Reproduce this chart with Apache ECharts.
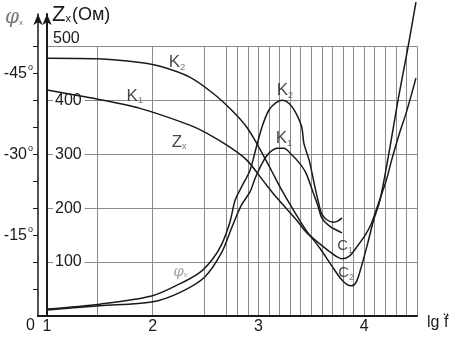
<!DOCTYPE html>
<html>
<head>
<meta charset="utf-8">
<script src="https://cdn.jsdelivr.net/npm/echarts@6/dist/echarts.min.js"></script>
<style>
  html, body { margin: 0; background: #fff; }
  #chart { width: 460px; height: 351px; }
</style>
</head>
<body>
<div id="chart"></div>
<script>
// lg f values where the vertical grid lines sit
const gridX = [1.48, 2, 2.49, 2.7, 2.8, 2.9, 3, 3.1, 3.2, 3.3, 3.4, 3.5, 3.6, 3.7, 3.8, 3.9, 4, 4.1, 4.2, 4.3, 4.4, 4.5];
const zTicks = [100, 200, 300, 400, 500];
const phiLabels = [15, 30, 45];
const phiTicks = [5, 10, 15, 20, 25, 30, 35, 40, 45, 50];
const lgTicks = [1, 2, 3, 4];

// Zx (Ом) against lg f
const zK2 = [[1.00, 478], [1.48, 477], [1.88, 470], [2.07, 463], [2.35, 443], [2.57, 413], [2.75, 381], [2.89, 350],
  [3.01, 311], [3.13, 267], [3.23, 230], [3.36, 187], [3.45, 159], [3.58, 126], [3.69, 94], [3.78, 69], [3.84, 58],
  [3.88, 56], [3.925, 63], [3.97, 89], [4.03, 132], [4.09, 178], [4.15, 215], [4.24, 308], [4.32, 400], [4.41, 493],
  [4.49, 582]];
const zK1 = [[1.00, 419], [1.48, 402], [1.88, 385], [2.35, 354], [2.51, 339], [2.73, 313], [2.89, 289], [3.04, 252],
  [3.17, 220], [3.36, 178], [3.45, 156], [3.56, 137], [3.67, 120], [3.75, 109], [3.79, 106], [3.86, 111], [3.93, 128],
  [4.01, 150], [4.07, 172], [4.12, 200], [4.21, 252], [4.26, 289], [4.33, 336], [4.40, 378], [4.49, 441]];

// |phi x| in degrees against lg f
const phiK2 = [[1.00, 1.3], [1.50, 2.2], [1.99, 3.7], [2.25, 5.9], [2.44, 8.0], [2.56, 10.4], [2.65, 13.2], [2.73, 17.4],
  [2.78, 21.5], [2.85, 24.3], [2.92, 27.0], [2.98, 31.3], [3.04, 35.4], [3.10, 38.2], [3.17, 39.6], [3.23, 40.0],
  [3.29, 39.4], [3.35, 37.8], [3.41, 35.0], [3.43, 32.0], [3.48, 28.9], [3.53, 24.3], [3.57, 20.9], [3.60, 18.9],
  [3.65, 17.8], [3.71, 17.4], [3.75, 17.6], [3.79, 18.2]];
const phiK1 = [[1.00, 1.1], [1.50, 1.9], [1.99, 2.6], [2.25, 4.3], [2.49, 7.2], [2.65, 11.7], [2.75, 16.5], [2.84, 20.6],
  [2.92, 23.0], [2.97, 25.6], [3.04, 28.5], [3.10, 30.2], [3.18, 31.1], [3.24, 31.1], [3.32, 29.8], [3.39, 28.3],
  [3.45, 26.5], [3.51, 23.3], [3.56, 20.6], [3.60, 18.2], [3.67, 16.7], [3.74, 15.9], [3.79, 15.4]];

// curve captions, placed in (lg f, Z) units
const captions = [
  { name: 'K{s|2}', value: [2.23, 470] },
  { name: 'K{s|1}', value: [1.83, 407] },
  { name: 'Z{s|x}', value: [2.25, 322] },
  { name: 'K{s|2}', value: [3.25, 418] },
  { name: 'K{s|1}', value: [3.24, 329] },
  { name: '{c|C}{s|1}', value: [3.82, 130] },
  { name: '{c|C}{s|2}', value: [3.83, 80] },
  { name: '{p|φ}{ps|x}', value: [2.26, 82] }
];

const font = 'Liberation Sans, Arial, sans-serif';
const ink = '#1a1a1a';

const chart = echarts.init(document.getElementById('chart'));

const curve = (data, yIdx) => ({
  type: 'line',
  yAxisIndex: yIdx,
  data: data,
  smooth: 0.3,
  showSymbol: false,
  symbol: 'none',
  clip: false,
  silent: true,
  z: 3,
  lineStyle: { color: ink, width: 1.5 }
});

const gridLines = [];
gridX.forEach(x => gridLines.push([{ coord: [x, 0] }, { coord: [x, 500] }]));
zTicks.forEach(z => gridLines.push([{ coord: [1, z] }, { coord: [4.5, z] }]));

chart.setOption({
  animation: false,
  grid: { left: 47, right: 43, top: 14, bottom: 35 },
  xAxis: {
    type: 'value',
    min: 1,
    max: 4.5,
    interval: 1,
    axisLine: { lineStyle: { color: ink, width: 2 } },
    axisTick: { show: false },
    splitLine: { show: false },
    axisLabel: { customValues: lgTicks, color: ink, fontSize: 16, fontFamily: font, margin: 3 }
  },
  yAxis: [
    {
      type: 'value',
      min: 0,
      max: 560,
      interval: 100,
      position: 'left',
      z: 2,
      axisLine: { show: true, lineStyle: { color: ink, width: 2 }, symbol: ['none', 'arrow'], symbolSize: [7, 11] },
      axisTick: { show: false },
      splitLine: { show: false },
      axisLabel: {
        customValues: zTicks,
        inside: true,
        margin: 6,
        color: ink,
        fontSize: 16,
        fontFamily: font,
        formatter: v => v === 500 ? '{t|500}' : '{n|' + v + '}',
        rich: {
          n: { backgroundColor: '#fff', padding: [1, 3, 1, 2], fontSize: 16, fontFamily: font, color: ink },
          t: { padding: [0, 0, 16, 0], fontSize: 16, fontFamily: font, color: ink }
        }
      }
    },
    {
      type: 'value',
      min: 0,
      max: 56,
      interval: 5,
      position: 'left',
      offset: 9,
      axisLine: { show: true, lineStyle: { color: ink, width: 1.5 }, symbol: ['none', 'arrow'], symbolSize: [7, 11] },
      axisTick: { show: true, customValues: phiTicks, length: 5, lineStyle: { color: ink } },
      splitLine: { show: false },
      axisLabel: {
        customValues: phiLabels,
        margin: 5,
        color: ink,
        fontSize: 16,
        fontFamily: font,
        formatter: v => '-' + v + '{d|o}',
        rich: { d: { fontSize: 9, padding: [0, 0, 12, 1], fontFamily: font, color: ink } }
      }
    }
  ],
  series: [
    Object.assign(curve(zK2, 0), {
      markLine: {
        z: 0,
        silent: true,
        symbol: ['none', 'none'],
        label: { show: false },
        lineStyle: { color: '#8a8a8a', width: 1, type: 'solid' },
        data: gridLines
      }
    }),
    curve(zK1, 0),
    curve(phiK2, 1),
    curve(phiK1, 1),
    {
      type: 'scatter',
      yAxisIndex: 0,
      data: captions,
      symbolSize: 0,
      silent: true,
      z: 4,
      label: {
        show: true,
        position: 'inside',
        formatter: p => p.name,
        color: ink,
        fontSize: 17,
        fontFamily: font,
        rich: {
          s: { fontSize: 9, color: '#555', padding: [9, 0, 0, 0], fontFamily: font },
          c: { fontSize: 15, color: ink, fontFamily: font },
          p: { fontSize: 15, color: '#888', fontStyle: 'italic', fontFamily: 'DejaVu Serif' },
          ps: { fontSize: 7, color: '#888', padding: [6, 0, 0, 0], fontFamily: font }
        }
      }
    }
  ],
  graphic: [
    { type: 'line', shape: { x1: 37, y1: 316, x2: 47, y2: 316 }, style: { stroke: ink, lineWidth: 2 } },
    {
      type: 'text', left: 52, top: 4,
      style: {
        text: '{z|Z}{s|x}{o|(Ом)}',
        rich: {
          z: { fontSize: 22, fontFamily: font, fill: ink },
          s: { fontSize: 11, fontFamily: font, fill: ink, padding: [8, 1, 0, 0] },
          o: { fontSize: 18, fontFamily: font, fill: ink }
        }
      }
    },
    {
      type: 'text', left: 5, top: 8,
      style: {
        text: '{p|φ}{s|x}',
        rich: {
          p: { fontSize: 20, fontStyle: 'italic', fontFamily: 'DejaVu Serif', fill: '#777' },
          s: { fontSize: 8, fontFamily: font, fill: '#777', padding: [10, 0, 0, 0] }
        }
      }
    },
    { type: 'text', left: 26, top: 318, style: { text: '0', fontSize: 16, fontFamily: font, fill: ink } },
    { type: 'text', left: 427, top: 315, style: { text: 'lg f\u0308', fontSize: 16, fontFamily: font, fill: ink } }
  ]
});
</script>
</body>
</html>
